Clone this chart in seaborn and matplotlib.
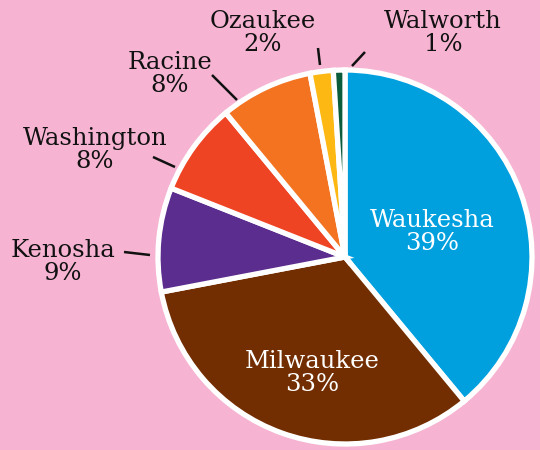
import seaborn as sns
import matplotlib.pyplot as plt

counties = ['Waukesha', 'Milwaukee', 'Kenosha', 'Washington', 'Racine', 'Ozaukee', 'Walworth']
shares = [39, 33, 9, 8, 8, 2, 1]
colors = ['#00A0DF', '#722D00', '#5B2D8E', '#EE4423', '#F37321', '#FDB813', '#0A5C3B']

BG = '#F6B4D2'
W, H = 540, 450

sns.set_theme(style='white', rc={'figure.facecolor': BG, 'axes.facecolor': BG})
plt.rcParams['font.family'] = ['DejaVu Serif']


def px(x, y):
    # pixel coords (origin top-left) -> data coords
    return x, H - y


fig = plt.figure(figsize=(5.4, 4.5), dpi=100)
ax = fig.add_axes([0, 0, 1, 1])

cx, cy = px(345, 257)
ax.pie(shares, colors=colors, startangle=90, counterclock=False,
       center=(cx, cy), radius=187,
       wedgeprops=dict(edgecolor='white', linewidth=3.8))
ax.set_xlim(0, W)
ax.set_ylim(0, H)
ax.set_aspect('equal')
ax.axis('off')

# inside labels
inside = {'Waukesha': (432, 232), 'Milwaukee': (312, 373)}
# outside labels: text centre, leader start, leader end (pixels)
outside = {
    'Kenosha': ((63, 262), (124, 252), (150, 255)),
    'Washington': ((95, 150), (153, 157), (175, 167)),
    'Racine': ((170, 74), (212, 75), (237, 100)),
    'Ozaukee': ((263, 33), (318, 48), (320, 65)),
    'Walworth': ((443, 33), (365, 52), (352, 66)),
}

FS = 17.5
for name, val in zip(counties, shares):
    txt = f'{name}\n{val}%'
    if name in inside:
        ax.text(*px(*inside[name]), txt, ha='center', va='center',
                color='white', fontsize=FS, linespacing=1.05)
    else:
        pos, a, b = outside[name]
        ax.text(*px(*pos), txt, ha='center', va='center',
                color='#111111', fontsize=FS, linespacing=1.05)
        ax.plot([px(*a)[0], px(*b)[0]], [px(*a)[1], px(*b)[1]],
                color='#111111', lw=1.8, solid_capstyle='butt')

fig.savefig('out.png', dpi=100, facecolor=BG)
